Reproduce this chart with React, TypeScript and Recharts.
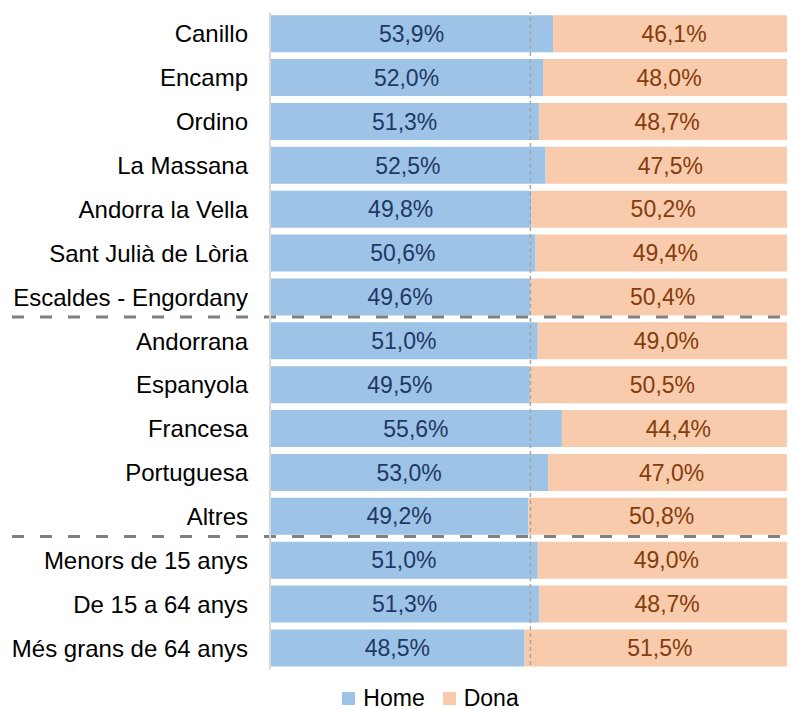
import React from 'react'
import { BarChart, Bar, XAxis, YAxis, LabelList, ReferenceLine, Legend } from 'recharts'

const categories = [
  'Canillo',
  'Encamp',
  'Ordino',
  'La Massana',
  'Andorra la Vella',
  'Sant Julià de Lòria',
  'Escaldes - Engordany',
  'Andorrana',
  'Espanyola',
  'Francesa',
  'Portuguesa',
  'Altres',
  'Menors de 15 anys',
  'De 15 a 64 anys',
  'Més grans de 64 anys',
]
const homeValues = [53.9, 52.0, 51.3, 52.5, 49.8, 50.6, 49.6, 51.0, 49.5, 55.6, 53.0, 49.2, 51.0, 51.3, 48.5]
const donaValues = [46.1, 48.0, 48.7, 47.5, 50.2, 49.4, 50.4, 49.0, 50.5, 44.4, 47.0, 50.8, 49.0, 48.7, 51.5]
// groups end after these rows
const groupSeparators = ['Escaldes - Engordany', 'Altres']

const FONT = '"Liberation Sans", Arial, sans-serif'
const HOME_COLOR = '#9DC3E6'
const DONA_COLOR = '#F8CBAD'

const data = categories.map((name, i) => ({ name, home: homeValues[i], dona: donaValues[i] }))

const fmt = (v: any) => `${Number(v).toFixed(1).replace('.', ',')}%`

// dashed separator stretched under the category labels too
const SeparatorLine = (props: any) => {
  const { x2, y1 } = props
  return <line x1={12} x2={x2} y1={y1 - 2} y2={y1 - 2} stroke="#7F7F7F" strokeWidth={3} strokeDasharray="12 16" />
}

const MidLine = (props: any) => {
  const { x1, y1, y2 } = props
  return <line x1={x1} x2={x1} y1={y1 - 5} y2={y2} stroke="#A6A6A6" strokeWidth={1.5} strokeDasharray="4 3" />
}

const LegendContent = () => (
  <div style={{ display: 'flex', justifyContent: 'center', paddingLeft: 66, height: 24, alignItems: 'center', fontFamily: FONT, fontSize: 23, color: '#000' }}>
    <span style={{ display: 'inline-block', width: 13, height: 13, background: HOME_COLOR, marginRight: 8 }} />
    <span style={{ marginRight: 18 }}>Home</span>
    <span style={{ display: 'inline-block', width: 13, height: 13, background: DONA_COLOR, marginRight: 8 }} />
    <span>Dona</span>
  </div>
)

export default function App() {
  return (
    <div style={{ margin: '-8px 0 0 -8px', width: 795, height: 709, background: '#fff' }}>
      <BarChart
        width={795}
        height={709}
        data={data}
        layout="vertical"
        barCategoryGap="7.4%"
        margin={{ top: 12, right: 0, left: 0, bottom: 15 }}
      >
        <XAxis type="number" domain={[0, 100]} hide />
        <YAxis
          type="category"
          dataKey="name"
          width={270}
          tickLine={false}
          tickMargin={16}
          axisLine={{ stroke: '#D9D9D9', strokeWidth: 2 }}
          tick={{ fill: '#000', fontSize: 24, fontFamily: FONT }}
          interval={0}
        />
        <Bar dataKey="home" stackId="a" fill={HOME_COLOR} isAnimationActive={false}>
          <LabelList dataKey="home" position="center" formatter={fmt} fill="#1F3864" fontSize={23} fontFamily={FONT} />
        </Bar>
        <Bar dataKey="dona" stackId="a" fill={DONA_COLOR} isAnimationActive={false}>
          <LabelList dataKey="dona" position="center" formatter={fmt} fill="#843C0C" fontSize={23} fontFamily={FONT} />
        </Bar>
        <ReferenceLine x={49.6} shape={<MidLine />} />
        {groupSeparators.map((c) => (
          <ReferenceLine key={c} y={c} position="end" shape={<SeparatorLine />} />
        ))}
        <Legend verticalAlign="bottom" content={<LegendContent />} wrapperStyle={{ top: 686, bottom: 'auto', left: 0, width: 795 }} />
      </BarChart>
    </div>
  )
}
